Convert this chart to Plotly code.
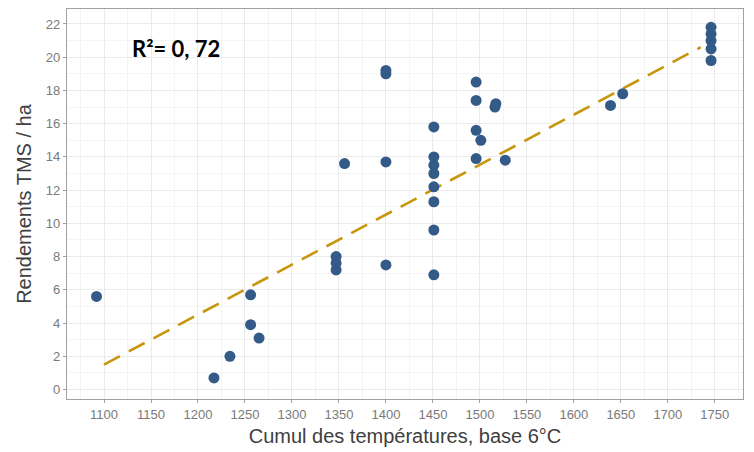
import plotly.graph_objects as go

# Data
cumul_temp = [1092, 1217, 1234, 1256, 1256, 1265,
              1347, 1347, 1347, 1356,
              1400, 1400, 1400, 1400,
              1451, 1451, 1451, 1451, 1451, 1451, 1451, 1451,
              1496, 1496, 1496, 1501, 1496, 1516, 1517, 1527,
              1639, 1652,
              1746, 1746, 1746, 1746, 1746]
rendements = [5.6, 0.7, 2.0, 5.7, 3.9, 3.1,
              8.0, 7.6, 7.2, 13.6,
              19.0, 19.2, 13.7, 7.5,
              15.8, 14.0, 13.5, 13.0, 12.2, 11.3, 9.6, 6.9,
              18.5, 17.4, 15.6, 15.0, 13.9, 17.0, 17.2, 13.8,
              17.1, 17.8,
              21.8, 21.4, 21.0, 20.5, 19.8]

trend_x = [1100, 1735]
trend_y = [1.5, 20.6]

x_ticks = list(range(1100, 1751, 50))
y_ticks = list(range(0, 23, 2))

fig = go.Figure()

fig.add_trace(go.Scatter(
    x=trend_x, y=trend_y, mode="lines",
    line=dict(color="#C8960C", width=2.6, dash="18px,10px"),
    showlegend=False, hoverinfo="skip"))

fig.add_trace(go.Scatter(
    x=cumul_temp, y=rendements, mode="markers",
    marker=dict(color="#345B87", size=11, line=dict(width=0)),
    showlegend=False))

fig.add_annotation(
    text="<b>R²= 0, 72</b>", xref="paper", yref="paper",
    x=(176 - 67) / 676, y=1 - (48 - 8) / 392,
    showarrow=False, xanchor="center", yanchor="middle",
    font=dict(family="Lato, Open Sans, sans-serif", size=22, color="#000000"))

axis_common = dict(
    showline=True, linecolor="#A0A0A0", linewidth=1.2, mirror=True,
    gridcolor="#EBEBEB", gridwidth=1, zeroline=False,
    ticks="outside", ticklen=3, tickcolor="#A0A0A0",
    tickfont=dict(family="Liberation Sans, Arial, sans-serif", size=13, color="#7A7A7A"),
)

fig.update_layout(
    width=754, height=452,
    margin=dict(l=67, r=11, t=8, b=52),
    paper_bgcolor="white", plot_bgcolor="white",
    xaxis=dict(
        range=[1060.6, 1780], tickvals=x_ticks,
        title=dict(text="Cumul des températures, base 6°C", standoff=8,
                   font=dict(family="Liberation Sans, Arial, sans-serif", size=20, color="#404040")),
        minor=dict(dtick=25, tick0=1075, showgrid=True, gridcolor="#F4F4F4", ticks=""),
        **axis_common),
    yaxis=dict(
        range=[-0.57, 22.9], tickvals=y_ticks,
        title=dict(text="Rendements TMS / ha", standoff=8,
                   font=dict(family="Liberation Sans, Arial, sans-serif", size=20, color="#404040")),
        minor=dict(dtick=1, tick0=1, showgrid=True, gridcolor="#F4F4F4", ticks=""),
        **axis_common),
)

fig.write_html("out.html")
